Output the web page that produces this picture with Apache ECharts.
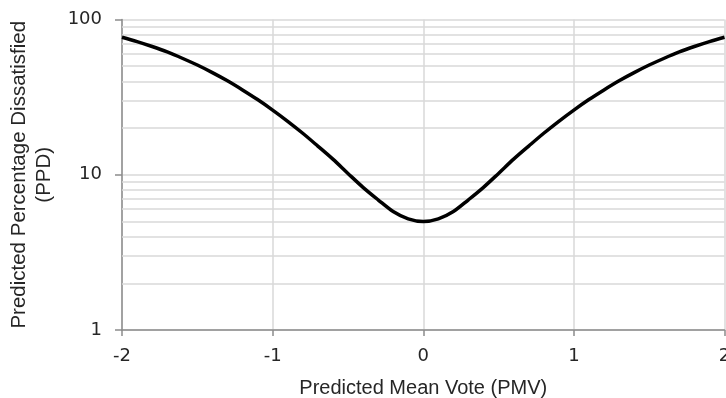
<!DOCTYPE html>
<html><head><meta charset="utf-8">
<script src="https://cdn.jsdelivr.net/npm/echarts@6/dist/echarts.min.js"></script>
<style>html,body{margin:0;padding:0;background:#fff}#c{width:726px;height:398px}</style>
</head><body><div id="c"></div>
<script>
// PMV values (x) and PPD values (y)
const pmv = [-2.0,-1.9,-1.8,-1.7,-1.6,-1.5,-1.4,-1.3,-1.2,-1.1,-1.0,-0.9,-0.8,-0.7,-0.6,-0.5,-0.4,-0.3,-0.2,-0.1,0.0,0.1,0.2,0.3,0.4,0.5,0.6,0.7,0.8,0.9,1.0,1.1,1.2,1.3,1.4,1.5,1.6,1.7,1.8,1.9,2.0];
const ppd = [76.8,72.1,67.0,61.8,56.3,50.9,45.5,40.3,35.2,30.5,26.1,22.1,18.5,15.3,12.6,10.2,8.3,6.9,5.8,5.2,5.0,5.2,5.8,6.9,8.3,10.2,12.6,15.3,18.5,22.1,26.1,30.5,35.2,40.3,45.5,50.9,56.3,61.8,67.0,72.1,76.8];
const xTicks = [-2,-1,0,1,2];
const yTicks = [1,10,100];
const yMinorGrid = [2,3,4,5,6,7,8,9,20,30,40,50,60,70,80,90];

const chart = echarts.init(document.getElementById('c'), null, {renderer:'canvas'});
chart.setOption({
  animation:false,
  backgroundColor:'#fff',
  grid:{left:122,right:1.5,top:19.5,bottom:68,containLabel:false,outerBoundsMode:'none'},
  xAxis:{type:'value',min:xTicks[0],max:xTicks[xTicks.length-1],interval:1,
    name:'Predicted Mean Vote (PMV)',nameLocation:'middle',nameGap:48,
    nameTextStyle:{fontFamily:'Liberation Sans',fontSize:20,color:'#262626'},
    axisLine:{onZero:false,lineStyle:{color:'#8c8c8c',width:1.5}},
    axisTick:{show:true,length:6,lineStyle:{color:'#8c8c8c',width:1.5}},
    axisLabel:{margin:17,fontFamily:'DejaVu Sans',fontSize:18,color:'#262626'},
    splitLine:{show:true,lineStyle:{color:'#d9d9d9',width:1.5}}
  },
  yAxis:{type:'log',logBase:10,min:yTicks[0],max:yTicks[yTicks.length-1],
    name:'Predicted Percentage Dissatisfied\n(PPD)',nameLocation:'middle',nameGap:62,nameRotate:90,
    nameTextStyle:{fontFamily:'Liberation Sans',fontSize:20.5,color:'#262626',lineHeight:25,align:'center'},
    axisLine:{show:true,onZero:false,lineStyle:{color:'#8c8c8c',width:1.5}},
    axisTick:{show:true,length:7,lineStyle:{color:'#8c8c8c',width:1.5}},
    axisLabel:{margin:20,fontFamily:'DejaVu Sans',fontSize:18,color:'#262626'},
    splitLine:{show:true,lineStyle:{color:'#d9d9d9',width:1.5}},
    minorTick:{show:false},minorSplitLine:{show:false}
  },
  series:[
    {type:'line',data:[],z:1,silent:true,
      markLine:{silent:true,symbol:'none',label:{show:false},animation:false,
        lineStyle:{color:'#d9d9d9',width:1.5,type:'solid'},
        emphasis:{disabled:true},
        data:yMinorGrid.map(v=>({yAxis:v}))}},
    {type:'line',z:5,data:pmv.map((x,i)=>[x,ppd[i]]),smooth:0.35,showSymbol:false,
      lineStyle:{color:'#000',width:3.5},clip:false}
  ]
});
</script></body></html>
